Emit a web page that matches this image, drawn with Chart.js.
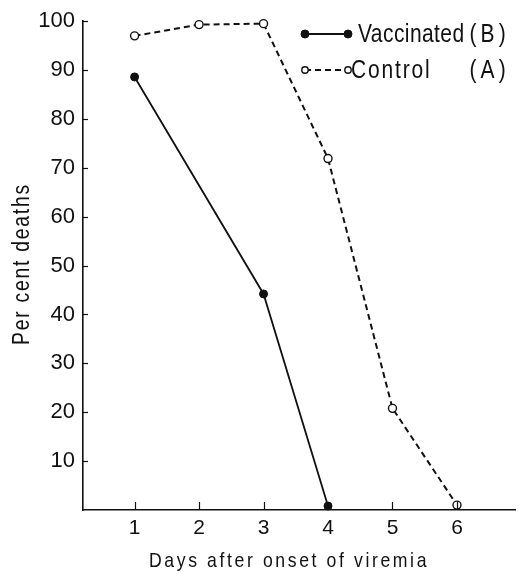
<!DOCTYPE html>
<html>
<head>
<meta charset="utf-8">
<script src="https://cdn.jsdelivr.net/npm/chart.js@4/dist/chart.umd.min.js"></script>
<style>
  html, body { margin: 0; padding: 0; background: #fff; }
  #wrap { position: relative; width: 524px; height: 574px; }
</style>
</head>
<body>
<div id="wrap"><canvas id="c" width="524" height="574"></canvas></div>
<script>
// ---- data ----
const xTickValues = [1, 2, 3, 4, 5, 6];
const yTickValues = [10, 20, 30, 40, 50, 60, 70, 80, 90, 100];

const vaccinatedDays = [1, 3, 4];
const vaccinatedDeaths = [88.6, 44.2, 0.8];

const controlDays = [1, 2, 3, 4, 5, 6];
const controlDeaths = [97.0, 99.3, 99.5, 71.9, 20.8, 1.0];

const vaccinatedLabel = 'Vaccinated';
const vaccinatedTag = '(B)';
const controlLabel = 'Control';
const controlTag = '(A)';

const xTitle = 'Days after onset of viremia';
const yTitle = 'Per cent deaths';

// ---- styling ----
const FONT = '"Liberation Sans", Arial, sans-serif';
const INK = '#111';
const NARROW = 0.84;

const toXY = (xs, ys) => xs.map((x, i) => ({ x: x, y: ys[i] }));

function narrowText(ctx, text, x, y, align, size, spacing, angle) {
  ctx.save();
  ctx.translate(x, y);
  if (angle) ctx.rotate(angle);
  ctx.scale(NARROW, 1);
  ctx.font = size + 'px ' + FONT;
  ctx.letterSpacing = spacing + 'px';
  ctx.textAlign = align;
  ctx.textBaseline = 'middle';
  ctx.fillStyle = INK;
  ctx.fillText(text, 0, 0);
  ctx.restore();
}

const inwardTicks = {
  id: 'inwardTicks',
  afterDraw(chart) {
    const ctx = chart.ctx;
    const xs = chart.scales.x, ys = chart.scales.y;
    const a = chart.chartArea;
    ctx.save();
    ctx.strokeStyle = INK;
    ctx.lineWidth = 1.2;
    xTickValues.forEach(v => {
      const px = Math.round(xs.getPixelForValue(v)) + 0.5;
      ctx.beginPath();
      ctx.moveTo(px, a.bottom);
      ctx.lineTo(px, a.bottom - 8);
      ctx.stroke();
    });
    yTickValues.forEach(v => {
      const py = Math.round(ys.getPixelForValue(v)) + 0.5;
      ctx.beginPath();
      ctx.moveTo(a.left, py);
      ctx.lineTo(a.left + 5, py);
      ctx.stroke();
    });
    ctx.restore();
  }
};

const titlesAndLegend = {
  id: 'titlesAndLegend',
  afterDraw(chart) {
    const ctx = chart.ctx;
    ctx.save();
    // axis titles
    narrowText(ctx, xTitle, 289, 561, 'center', 21, 3.1, 0);
    narrowText(ctx, yTitle, 23, 264, 'center', 23, 2.1, -Math.PI / 2);

    // legend
    const ds = chart.data.datasets;
    const x0 = 305, x1 = 348;
    const rows = [
      { y: 34, d: ds[0], label: vaccinatedLabel, tag: vaccinatedTag, tx: 358, sp: 0.5, r: 4 },
      { y: 70, d: ds[1], label: controlLabel, tag: controlTag, tx: 351, sp: 2.2, r: 3.2 }
    ];
    rows.forEach(r => {
      ctx.strokeStyle = r.d.borderColor;
      ctx.lineWidth = r.d.borderWidth;
      ctx.setLineDash(r.d.borderDash || []);
      ctx.beginPath();
      ctx.moveTo(x0, r.y);
      ctx.lineTo(x1, r.y);
      ctx.stroke();
      ctx.setLineDash([]);
      [x0, x1].forEach(px => {
        ctx.beginPath();
        ctx.arc(px, r.y, r.r, 0, Math.PI * 2);
        ctx.fillStyle = r.d.pointBackgroundColor;
        ctx.fill();
        ctx.lineWidth = r.d.pointBorderWidth;
        ctx.strokeStyle = r.d.pointBorderColor;
        ctx.stroke();
      });
      narrowText(ctx, r.label, r.tx, r.y + 1, 'left', 25, r.sp, 0);
      narrowText(ctx, r.tag, 510, r.y + 1, 'right', 25, 5, 0);
    });
    ctx.restore();
  }
};

new Chart(document.getElementById('c'), {
  type: 'line',
  data: {
    datasets: [
      {
        label: vaccinatedLabel + ' ' + vaccinatedTag,
        data: toXY(vaccinatedDays, vaccinatedDeaths),
        borderColor: INK,
        borderWidth: 1.8,
        pointRadius: 4,
        pointBackgroundColor: INK,
        pointBorderColor: INK,
        pointBorderWidth: 1,
        tension: 0,
        clip: false
      },
      {
        label: controlLabel + ' ' + controlTag,
        data: toXY(controlDays, controlDeaths),
        borderColor: INK,
        borderWidth: 2,
        borderDash: [6, 4],
        pointRadius: 4,
        pointBackgroundColor: '#fff',
        pointBorderColor: INK,
        pointBorderWidth: 1.4,
        tension: 0,
        clip: false
      }
    ]
  },
  options: {
    responsive: false,
    animation: false,
    events: [],
    layout: { padding: { left: 0, right: 9, top: 19, bottom: 0 } },
    plugins: { legend: { display: false }, tooltip: { enabled: false } },
    scales: {
      x: {
        type: 'linear',
        min: 0.2,
        max: 6.9,
        afterBuildTicks: s => { s.ticks = xTickValues.map(v => ({ value: v })); },
        afterFit: s => { s.height = 64; },
        grid: { display: false, drawTicks: false },
        border: { display: true, color: INK, width: 1.6 },
        ticks: { color: INK, padding: 6, font: { family: FONT, size: 21 }, maxRotation: 0 }
      },
      y: {
        type: 'linear',
        min: 0,
        max: 100,
        afterBuildTicks: s => { s.ticks = yTickValues.map(v => ({ value: v })); },
        afterFit: s => { s.width = 83; },
        grid: { display: false, drawTicks: false },
        border: { display: true, color: INK, width: 1.6 },
        ticks: { color: INK, padding: 8, font: { family: FONT, size: 22 } }
      }
    }
  },
  plugins: [inwardTicks, titlesAndLegend]
});
</script>
</body>
</html>
